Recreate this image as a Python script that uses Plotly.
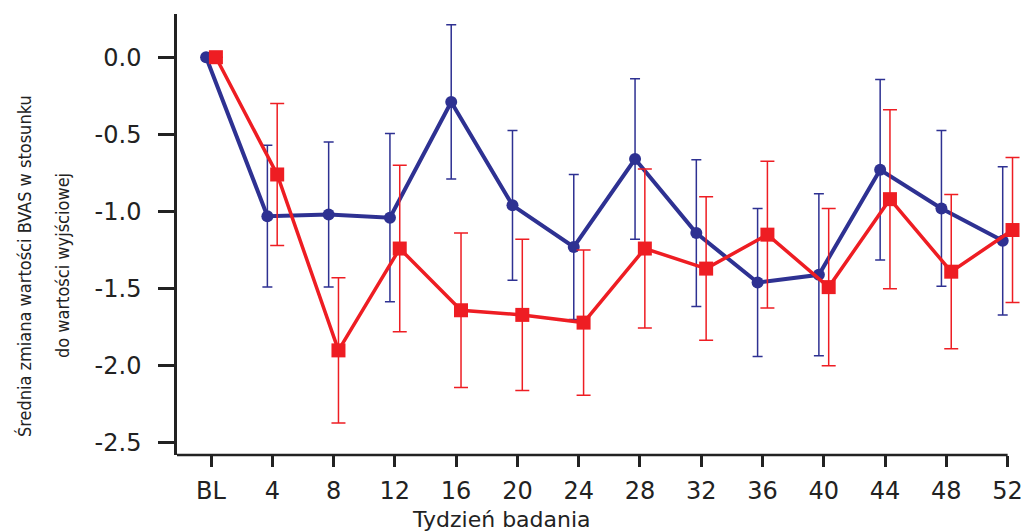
import plotly.graph_objects as go

weeks = ["BL", "4", "8", "12", "16", "20", "24", "28", "32", "36", "40", "44", "48", "52"]

blue_mean = [0.0, -1.03, -1.02, -1.04, -0.29, -0.96, -1.23, -0.66, -1.14, -1.46, -1.41, -0.73, -0.98, -1.19]
blue_err = [0.0, 0.46, 0.47, 0.545, 0.50, 0.485, 0.47, 0.52, 0.475, 0.48, 0.525, 0.585, 0.505, 0.48]

red_mean = [0.0, -0.76, -1.90, -1.24, -1.64, -1.67, -1.72, -1.24, -1.37, -1.15, -1.49, -0.92, -1.39, -1.12]
red_err = [0.0, 0.46, 0.47, 0.54, 0.50, 0.49, 0.47, 0.515, 0.465, 0.475, 0.51, 0.58, 0.50, 0.47]

blue_offset = -0.08
red_offset = 0.08

idx = list(range(len(weeks)))
BLUE = "#2E3192"
RED = "#EE1D23"
INK = "#222222"

# page has an 8px body margin; figure sized to fit the 1029x531 window
FIG_W, FIG_H = 1021, 523
PAGE = 8
# target plot-area geometry in window pixels
ax_left_px, tick13_px, ax_top_px, ax_bot_px = 177, 1008, 14, 455
x_min = -0.555
x_max = 13.3
unit = (tick13_px - ax_left_px) / (13 - x_min)
L = ax_left_px - PAGE
T = ax_top_px - PAGE
W = unit * (x_max - x_min)
H = ax_bot_px - ax_top_px
R = FIG_W - L - W
B = FIG_H - T - H


def px(x_win):
    return (x_win - PAGE - L) / W


def py(y_win):
    return (T + H - (y_win - PAGE)) / H


fig = go.Figure()
fig.add_trace(go.Scatter(
    x=[i + blue_offset for i in idx], y=blue_mean,
    mode="lines+markers",
    line=dict(color=BLUE, width=4),
    marker=dict(symbol="circle", size=12, color=BLUE),
    error_y=dict(type="data", array=blue_err, visible=True, color=BLUE, thickness=1.5, width=5),
    cliponaxis=False, showlegend=False,
))
fig.add_trace(go.Scatter(
    x=[i + red_offset for i in idx], y=red_mean,
    mode="lines+markers",
    line=dict(color=RED, width=3.5),
    marker=dict(symbol="square", size=14, color=RED),
    error_y=dict(type="data", array=red_err, visible=True, color=RED, thickness=1.5, width=7),
    cliponaxis=False, showlegend=False,
))

fig.update_layout(
    width=FIG_W, height=FIG_H,
    margin=dict(l=L, r=R, t=T, b=B, pad=0),
    paper_bgcolor="white", plot_bgcolor="white",
    font=dict(family="DejaVu Sans, Liberation Sans, sans-serif", color=INK),
)
fig.update_xaxes(
    range=[x_min, x_max],
    tickmode="array", tickvals=idx, ticktext=weeks,
    showgrid=False, zeroline=False, showline=False,
    ticks="outside", ticklen=11, tickwidth=2.5, tickcolor=INK,
    tickfont=dict(size=24, color=INK),
    ticklabelstandoff=3,
)
fig.update_yaxes(
    range=[-2.578, 0.28],
    tickmode="array", tickvals=[0.0, -0.5, -1.0, -1.5, -2.0, -2.5],
    ticktext=["0.0", "-0.5", "-1.0", "-1.5", "-2.0", "-2.5"],
    showgrid=False, zeroline=False, showline=True, linewidth=2.5, linecolor=INK,
    ticks="outside", ticklen=16, tickwidth=2.5, tickcolor=INK,
    tickfont=dict(size=24, color=INK),
    ticklabelstandoff=12,
)
# x-axis baseline ends at the last tick
fig.add_shape(type="line", xref="x", yref="paper", x0=x_min, x1=13, y0=0, y1=0,
              line=dict(color=INK, width=2.5))

fig.add_annotation(
    text="Tydzień badania", xref="paper", yref="paper",
    x=px(502), y=py(519),
    showarrow=False, font=dict(size=22, color=INK, family="DejaVu Sans, Liberation Sans, sans-serif"),
    xanchor="center", yanchor="middle",
)
NARROW = "Liberation Sans Narrow, Arial Narrow, DejaVu Sans Condensed, sans-serif"
fig.add_annotation(
    text="Średnia zmiana wartości BVAS w stosunku",
    xref="paper", yref="paper", x=px(24), y=py(266),
    textangle=-90, showarrow=False,
    font=dict(size=18, color=INK, family=NARROW),
    xanchor="center", yanchor="middle",
)
fig.add_annotation(
    text="do wartości wyjściowej",
    xref="paper", yref="paper", x=px(62), y=py(266),
    textangle=-90, showarrow=False,
    font=dict(size=18, color=INK, family=NARROW),
    xanchor="center", yanchor="middle",
)

fig.write_html("out.html")
